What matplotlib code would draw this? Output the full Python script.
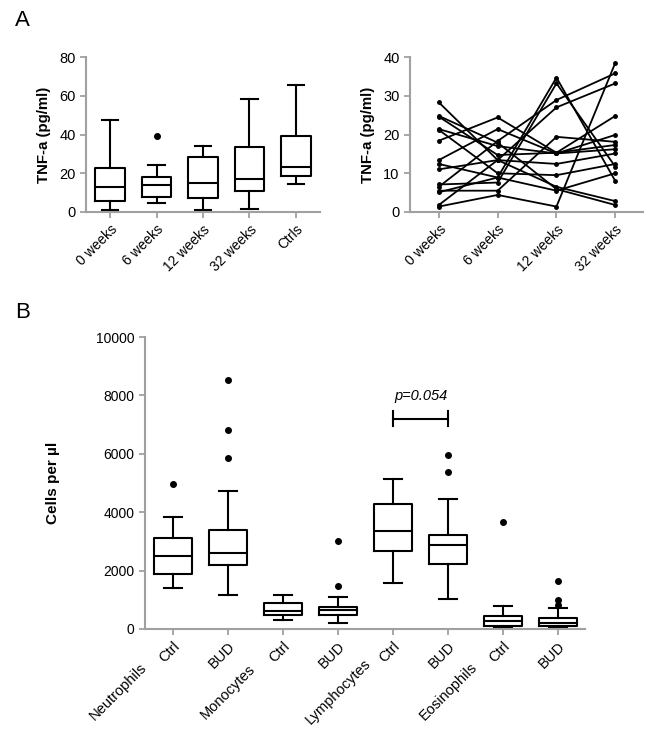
import numpy as np
import matplotlib
matplotlib.use('Agg')
import matplotlib.pyplot as plt
from matplotlib.transforms import blended_transform_factory

plt.rcParams['font.family'] = ['Liberation Sans', 'DejaVu Sans']

# Panel A left: TNF-a per time point (box plot stats)
tnf_groups = ['0 weeks', '6 weeks', '12 weeks', '32 weeks', 'Ctrls']
tnf_low = [1.0, 4.5, 1.0, 1.7, 14.2]
tnf_q1 = [5.8, 7.9, 7.0, 10.6, 18.5]
tnf_med = [12.7, 13.7, 15.1, 16.8, 23.3]
tnf_q3 = [22.8, 18.0, 28.2, 33.6, 39.0]
tnf_high = [47.7, 24.4, 34.3, 58.4, 65.8]
tnf_out = [[], [39.3], [], [], []]

# Panel A right: individual patients over time
weeks = ['0 weeks', '6 weeks', '12 weeks', '32 weeks']
patient_tnf = [
    [28.3, 13.4, 6.5, 2.8],
    [24.8, 17.9, 5.9, 1.8],
    [24.6, 14.7, 15.3, 24.8],
    [21.4, 17.0, 15.1, 19.9],
    [21.2, 10.0, 9.5, 12.4],
    [18.4, 24.4, 15.3, 17.3],
    [13.4, 21.4, 15.1, 16.2],
    [12.4, 8.9, 5.5, 10.0],
    [11.0, 13.4, 12.4, 15.1],
    [7.1, 7.6, 33.2, 11.7],
    [6.5, 18.3, 28.9, 35.8],
    [5.5, 5.5, 19.4, 18.1],
    [5.1, 8.9, 34.7, 8.0],
    [1.8, 13.4, 27.0, 33.2],
    [1.4, 4.4, 1.4, 38.5],
]

# Panel B: cell counts
cell_types = ['Neutrophils', 'Monocytes', 'Lymphocytes', 'Eosinophils']
cell_groups = ['Ctrl', 'BUD', 'Ctrl', 'BUD', 'Ctrl', 'BUD', 'Ctrl', 'BUD']
cell_low = [1420, 1180, 321, 218, 1570, 1010, 46, 20]
cell_q1 = [1900, 2180, 470, 470, 2660, 2210, 115, 92]
cell_med = [2490, 2610, 608, 642, 3350, 2880, 287, 218]
cell_q3 = [3130, 3380, 906, 757, 4270, 3220, 459, 378]
cell_high = [3830, 4740, 1160, 1100, 5150, 4440, 780, 734]
cell_out = [[4950], [8520, 6820, 5870], [], [3030, 1456], [], [5975, 5380], [3650], [1630, 1000, 837]]
p_text = 'p=0.054'
p_pair = (4, 5)
p_y = 7200

gray = '#a0a0a0'
box_kw = dict(
    boxprops=dict(color='black', lw=1.5),
    medianprops=dict(color='black', lw=1.5),
    whiskerprops=dict(color='black', lw=1.5),
    capprops=dict(color='black', lw=1.5),
    flierprops=dict(marker='o', mfc='black', mec='black', ms=4, ls='none'),
)


def style_axes(ax):
    for s in ['top', 'right']:
        ax.spines[s].set_visible(False)
    for s in ['left', 'bottom']:
        ax.spines[s].set_color(gray)
        ax.spines[s].set_linewidth(1.5)
    ax.tick_params(colors=gray, labelcolor='black', length=4, width=1.3)


def make_stats(low, q1, med, q3, high, out):
    return [dict(whislo=a, q1=b, med=c, q3=d, whishi=e, fliers=f)
            for a, b, c, d, e, f in zip(low, q1, med, q3, high, out)]


fig = plt.figure(figsize=(6.49, 7.29), dpi=100)

# --- A left
ax1 = fig.add_axes([0.1325, 0.7092, 0.3606, 0.2126])
ax1.bxp(make_stats(tnf_low, tnf_q1, tnf_med, tnf_q3, tnf_high, tnf_out),
        positions=range(len(tnf_groups)), widths=0.64, capwidths=0.36, **box_kw)
ax1.set_xlim(-0.52, 4.52)
ax1.set_ylim(0, 80)
ax1.set_yticks([0, 20, 40, 60, 80])
ax1.set_xticks(range(len(tnf_groups)))
ax1.set_xticklabels(tnf_groups, rotation=45, ha='right', rotation_mode='anchor', fontsize=10)
ax1.tick_params(axis='y', labelsize=10.5)
ax1.set_ylabel('TNF-a (pg/ml)', fontsize=10.8, fontweight='bold', labelpad=6)
style_axes(ax1)

# --- A right
ax2 = fig.add_axes([0.6317, 0.7092, 0.359, 0.2126])
x = np.arange(len(weeks))
for row in patient_tnf:
    ax2.plot(x, row, color='black', lw=1.3, marker='o', ms=2.5)
ax2.set_xlim(-0.49, 3.47)
ax2.set_ylim(0, 40)
ax2.set_yticks([0, 10, 20, 30, 40])
ax2.set_xticks(x)
ax2.set_xticklabels(weeks, rotation=45, ha='right', rotation_mode='anchor', fontsize=10)
ax2.tick_params(axis='y', labelsize=10.5)
ax2.set_ylabel('TNF-a (pg/ml)', fontsize=10.8, fontweight='bold', labelpad=6)
style_axes(ax2)

# --- B
ax3 = fig.add_axes([0.2234, 0.1372, 0.678, 0.4005])
ax3.bxp(make_stats(cell_low, cell_q1, cell_med, cell_q3, cell_high, cell_out),
        positions=range(len(cell_groups)), widths=0.68, capwidths=0.34, **box_kw)
ax3.set_xlim(-0.51, 7.49)
ax3.set_ylim(0, 10000)
ax3.set_yticks([0, 2000, 4000, 6000, 8000, 10000])
ax3.set_xticks(range(len(cell_groups)))
ax3.set_xticklabels(cell_groups, rotation=45, ha='right', rotation_mode='anchor', fontsize=10.5)
ax3.tick_params(axis='y', labelsize=10)
ax3.set_ylabel('Cells per µl', fontsize=11, fontweight='bold', labelpad=26)
style_axes(ax3)

trans = blended_transform_factory(ax3.transData, ax3.transAxes)
for i, name in enumerate(cell_types):
    ax3.text(2 * i - 1.0, -0.215, name, transform=trans, rotation=45,
             ha='center', va='center', rotation_mode='anchor', fontsize=10.5, clip_on=False)

# significance bracket
a, b = p_pair
ax3.plot([a, b], [p_y, p_y], color='black', lw=1.5)
ax3.plot([a, a], [p_y - 250, p_y + 250], color='black', lw=1.5)
ax3.plot([b, b], [p_y - 250, p_y + 250], color='black', lw=1.5)
ax3.text((a + b) / 2, p_y + 550, p_text, ha='center', va='bottom', fontsize=10.5, style='italic')

fig.text(15 / 649, 1 - 20 / 729, 'A', fontsize=16, va='center')
fig.text(15 / 649, 1 - 313 / 729, 'B', fontsize=16, va='center')

fig.savefig('out.png', dpi=100)
